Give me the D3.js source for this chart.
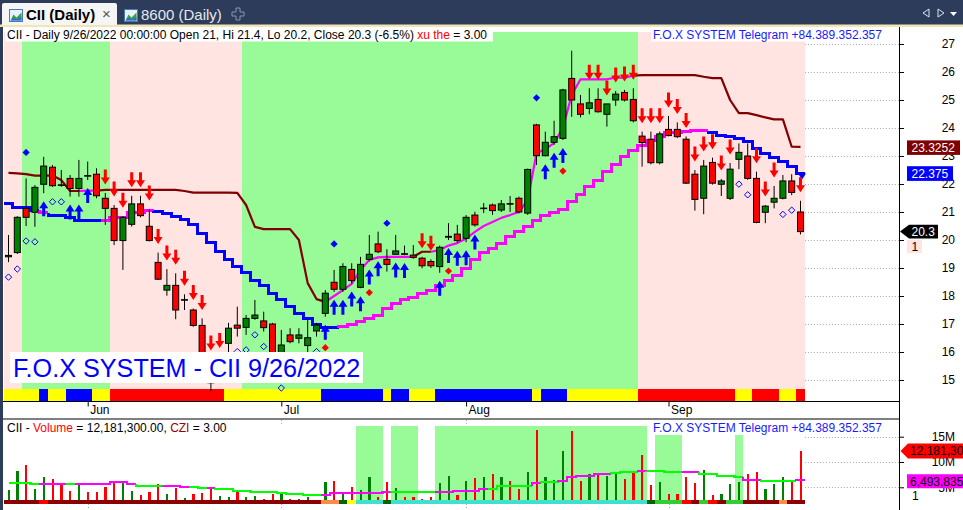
<!DOCTYPE html>
<html>
<head>
<meta charset="utf-8">
<script src="https://cdn.jsdelivr.net/npm/d3@7/dist/d3.min.js"></script>
<style>
html,body{margin:0;padding:0;background:#2d3c5b;}
svg{display:block;font-family:"Liberation Sans",Arial,Helvetica,sans-serif;}
</style>
</head>
<body>
<svg id="chart" width="963" height="510"></svg>
<script>
// ---------------- DATA ----------------
const dates = ["05-19","05-20","05-23","05-24","05-25","05-26","05-27","05-30","05-31",
"06-01","06-02","06-03","06-06","06-07","06-08","06-09","06-10","06-13","06-14","06-15","06-16","06-17","06-20","06-21","06-22","06-23","06-24","06-27","06-28","06-29","06-30",
"07-01","07-04","07-05","07-06","07-07","07-08","07-11","07-12","07-13","07-14","07-15","07-18","07-19","07-20","07-21","07-22","07-25","07-26","07-27","07-28","07-29",
"08-01","08-02","08-03","08-04","08-05","08-08","08-09","08-10","08-11","08-12","08-15","08-16","08-17","08-18","08-19","08-22","08-23","08-24","08-25","08-26","08-29","08-30","08-31",
"09-05","09-06","09-07","09-08","09-09","09-12","09-13","09-14","09-15","09-16","09-19","09-20","09-21","09-22","09-23","09-26"];

const open = [19.40,19.55,21.13,20.99,21.99,22.60,21.97,22.20,21.84,22.30,
22.35,21.49,21.13,19.98,20.56,21.29,20.49,19.20,18.21,18.38,
17.85,17.50,16.95,15.70,15.00,16.31,16.96,16.88,17.20,17.11,
17.00,15.89,16.61,16.49,16.23,16.75,17.38,18.49,18.24,18.95,
18.31,19.31,19.86,19.31,19.49,19.51,19.46,19.35,19.23,19.05,
20.10,20.21,20.06,20.89,21.12,21.25,21.07,21.30,21.49,20.96,
24.11,23.01,23.49,23.63,25.77,24.86,24.70,25.02,24.49,25.00,
25.27,25.02,23.71,23.60,22.76,23.95,23.95,23.60,22.35,21.49,
22.77,21.99,21.49,22.88,23.00,22.20,20.99,21.35,21.49,22.11,
21.00];
const high = [20.18,20.85,22.20,21.96,22.97,22.68,22.50,22.32,22.86,22.80,
22.56,21.68,21.25,20.85,21.58,21.58,21.11,19.55,18.96,18.81,
18.06,17.55,17.20,15.75,15.84,17.04,17.62,17.32,17.86,17.44,
17.04,16.79,16.85,16.85,17.14,17.04,18.21,18.93,19.17,19.17,
19.40,20.18,20.30,19.67,20.18,19.80,19.82,19.40,19.31,19.80,
20.60,20.54,20.89,21.01,21.32,21.30,21.43,21.57,21.55,22.55,
24.15,23.87,24.26,25.40,26.76,25.18,25.42,25.42,24.86,25.32,
25.36,25.42,23.87,23.87,23.87,24.43,24.20,23.70,22.50,22.86,
22.94,22.18,22.75,23.45,23.45,22.44,21.25,21.93,22.32,22.35,
21.40];
const low = [19.21,19.50,20.50,20.47,21.67,21.90,21.90,21.55,21.55,22.14,
21.49,20.54,19.82,18.93,20.48,20.81,19.95,18.57,18.01,17.17,
17.50,16.90,15.60,14.60,14.90,15.90,16.55,16.61,17.15,16.73,
15.70,15.25,16.31,16.31,15.95,16.55,17.26,18.15,18.15,18.45,
18.28,19.23,19.53,18.87,19.48,19.46,19.33,18.99,19.00,18.83,
20.00,19.90,19.92,20.48,20.96,20.90,21.00,21.00,20.95,20.90,
22.68,22.99,23.40,23.57,24.40,24.38,24.49,24.55,24.05,24.79,
24.95,24.20,22.62,22.70,22.70,23.70,23.64,22.00,21.05,20.92,
21.98,21.57,21.43,22.53,22.15,20.60,20.60,21.13,21.45,21.60,
20.20];
const close = [19.45,20.81,20.81,21.88,22.64,21.94,21.95,21.84,22.20,22.28,
21.58,21.13,19.98,20.81,21.29,20.87,19.98,18.60,18.38,17.50,
17.87,16.95,15.75,14.90,15.70,16.85,16.85,17.20,17.32,16.87,
15.90,16.25,16.37,16.61,16.51,16.96,18.10,18.24,19.05,18.55,
19.13,19.49,19.58,19.13,19.61,19.49,19.38,19.08,19.08,19.74,
20.13,19.98,20.81,20.54,21.14,21.05,21.29,21.28,21.00,22.52,
23.01,23.49,23.69,25.36,25.00,24.49,24.90,24.58,24.86,25.21,
25.00,24.26,23.48,22.76,23.79,23.73,23.69,22.03,21.45,22.64,
22.03,22.11,22.53,23.13,22.20,20.63,21.21,21.49,22.11,21.70,
20.30];
// volume in millions
const volume = [4.47,8.22,9.40,4.66,7.10,6.64,5.65,4.27,5.65,4.13,
4.13,5.12,6.25,6.25,4.33,3.48,4.13,5.65,3.68,4.92,
2.83,3.68,3.93,5.12,3.28,3.02,4.13,3.02,3.28,2.63,
3.68,3.81,2.63,2.63,3.02,2.15,6.10,6.25,3.68,5.00,
4.47,6.98,3.14,6.10,4.80,3.02,3.02,2.69,3.02,5.91,
7.23,3.48,6.25,6.90,6.98,7.63,6.98,6.25,4.60,7.96,
16.30,6.98,6.44,12.17,16.10,6.25,7.63,7.63,7.23,8.08,
6.64,7.89,11.38,5.45,6.10,3.68,3.68,6.98,5.91,8.42,
3.48,3.68,5.65,6.10,7.63,8.08,4.66,5.65,6.98,6.25,
12.1813];
const volMA = [5.91,5.91,5.91,5.59,5.59,5.59,5.59,5.59,5.59,5.59,
5.59,5.59,5.99,5.99,5.65,5.32,5.32,5.32,5.26,5.26,
5.12,5.12,4.92,4.92,4.60,4.60,4.33,4.33,4.13,4.13,
4.13,3.93,3.68,3.68,3.48,3.48,3.48,3.81,3.81,3.81,
3.93,3.93,3.93,4.07,4.13,4.13,4.13,4.13,4.13,4.13,
4.13,4.33,4.33,4.33,4.66,4.66,5.26,5.26,5.26,5.26,
5.79,6.11,6.11,6.30,6.98,7.29,7.29,7.63,7.63,7.77,
8.08,8.08,8.28,8.22,8.22,8.08,8.08,8.08,8.08,7.63,
7.63,7.29,7.29,6.98,6.44,6.44,6.25,6.25,6.25,6.25,
6.493835];
// upper trailing line (maroon / magenta)
const lineA = [22.40,22.38,22.35,22.30,22.30,22.30,22.14,21.75,21.75,21.76,
21.76,21.79,21.79,21.79,21.79,21.79,21.79,21.79,21.79,21.79,
21.75,21.69,21.69,21.69,21.69,21.69,21.68,21.25,20.47,20.39,
20.39,20.39,20.39,20.00,18.46,17.89,17.79,18.00,18.21,18.43,
18.93,19.29,19.38,19.40,19.40,19.40,19.40,19.58,19.58,19.64,
19.80,19.89,20.05,20.29,20.50,20.64,20.79,20.89,21.00,21.43,
23.10,23.25,23.46,24.00,25.18,25.74,25.74,25.74,25.74,25.80,
25.80,25.87,25.89,25.89,25.89,25.89,25.89,25.89,25.89,25.83,
25.78,25.78,25.00,24.53,24.53,24.46,24.38,24.31,24.31,23.33,
23.3252];
// stepped trailing line (blue / magenta)
const lineB = [21.29,21.17,21.17,21.07,20.98,20.89,20.89,20.80,20.71,20.71,
20.71,20.71,20.81,20.81,20.98,20.98,21.05,21.01,20.95,20.83,
20.75,20.54,20.24,19.90,19.58,19.31,19.07,18.83,18.57,18.36,
18.10,17.86,17.62,17.38,17.18,17.00,16.87,16.87,16.90,17.00,
17.08,17.18,17.32,17.56,17.74,17.86,17.95,18.10,18.21,18.39,
18.57,18.75,18.99,19.31,19.54,19.71,19.89,20.11,20.32,20.50,
20.68,20.86,21.00,21.10,21.37,21.61,21.90,22.14,22.44,22.71,
22.98,23.19,23.37,23.55,23.69,23.83,23.83,23.88,23.90,23.90,
23.85,23.75,23.71,23.63,23.51,23.28,23.10,22.94,22.82,22.62,
22.375];

const priceTicks = [15,16,17,18,19,20,21,22,23,24,25,26,27];
const volTicks = [5,10,15];
const monthLabels = ["Jun","Jul","Aug","Sep"];
const monthDates = ["06-01","07-01","08-01","09-05"];

// signal bars (indices into dates)
const sellIdx = [11,12,13,14,15,16,17,18,19,20,21,22,23,24,47,48,66,67,68,69,70,71,72,73,74,75,76,77,78,79,80,81,82,85,86,87,90];
const buyIdx = [4,7,8,9,36,37,38,39,40,41,42,44,45,49,50,51,52,53,61,62,63];
const upperDotIdx = [2,37,43,60];
const lowerRedDotIdx = [36,41,50,63];
const hollowIdx = [0,1,2,3,5,6,26,27,28,29,31,35,83,84,88,89];

// state runs [state, number of bars]
const bgRuns = [["P",2],["G",10],["P",15],["G",45],["P",19]];
const trendBarRuns = [["Y",4],["B",1],["Y",2],["B",3],["Y",2],["R",13],["Y",11],["B",7],["Y",1],["B",2],["Y",3],["B",11],["Y",1],["B",3],["Y",8],["R",11],["Y",2],["R",3],["Y",2],["R",1]];
const volBandRuns = [["N",40],["G",3],["N",1],["G",3],["N",2],["G",24],["N",1],["G",3],["N",6],["G",1],["N",7]];
const cziRuns = [["DR",4],["R",1],["DR",31],["O",2],["DG",1],["Y",1],["T",3],["DG",1],["T",29],["DG",1],["LG",3],["R",1],["DR",1],["LG",1],["R",1],["DR",1],["LG",2],["DR",4],["O",1],["DR",2]];
const lineARuns = [["D",9],["U",2],["D",26],["U",10],["D",2],["U",23],["D",19]];
const lineBRuns = [["D",4],["U",1],["D",6],["U",6],["D",21],["U",42],["D",11]];
const volMARuns = [["G",4],["M",3],["G",1],["M",7],["G",3],["M",3],["G",2],["M",1],["G",12],["M",8],["G",5],["M",6],["G",5],["M",1],["G",2],["M",6],["G",3],["M",1],["G",4],["M",2],["G",5],["M",2],["G",4],["M",1]];

// ---------------- STYLE ----------------
const bgColor = {G:"#98fb98", P:"#ffe4e1"};
const trendColor = {Y:"#ffff00", B:"#0000ff", R:"#ff0000"};
const cziColor = {DR:"#8b0000", R:"#ff0000", O:"#ff8c42", DG:"#006400", Y:"#ffff00", T:"#40e0d0", LG:"#32cd32"};
const lineAColor = {D:"#800000", U:"#ff00ff"};
const lineBColor = {D:"#0000ff", U:"#ff00ff"};
const volMAColor = {G:"#00ff00", M:"#ff00ff"};
const UP = "#008000", DN = "#ff0000";

// ---------------- DRAW ----------------
const W = 963, H = 510, axisX = 899;
const svg = d3.select("#chart");

function segs(runs){let s=0;return runs.map(([v,n])=>{const o={v,s,e:s+n-1};s+=n;return o;});}

svg.append("rect").attr("width",W).attr("height",H).attr("fill","#2d3c5b");
svg.append("rect").attr("x",0).attr("y",24.5).attr("width",W).attr("height",2.5).attr("fill","#f3e4b4");
svg.append("rect").attr("x",3).attr("y",27).attr("width",W-3).attr("height",H-27).attr("fill","#ffffff");

// tab bar
const tabs = svg.append("g");
tabs.append("path").attr("d","M2,25 L2,5 Q2,3 4,3 L115,3 Q117,3 117,5 L117,25 Z").attr("fill","#f5f5f5");
function tabIcon(x0,y0){
  tabs.append("rect").attr("x",x0).attr("y",y0).attr("width",13).attr("height",12).attr("fill","#e8f2ff").attr("stroke","#4a78c0");
  tabs.append("path").attr("d",`M${x0+1},${y0+11} L${x0+4},${y0+5} L${x0+7},${y0+8} L${x0+12},${y0+3} V${y0+11} Z`).attr("fill","#3aa040");
  tabs.append("path").attr("d",`M${x0+1},${y0+11} L${x0+4},${y0+8} L${x0+8},${y0+10} L${x0+12},${y0+7} V${y0+11} Z`).attr("fill","#2f6fd0");
}
tabIcon(9.5,9.5);
tabs.append("text").attr("x",26).attr("y",20).attr("font-size",15).attr("font-weight","bold").attr("fill","#000").text("CII (Daily)");
tabs.append("text").attr("x",102).attr("y",18.5).attr("font-size",15).attr("fill","#555").text("×");
tabIcon(124.5,9.5);
tabs.append("text").attr("x",141).attr("y",20).attr("font-size",15).attr("fill","#e4e8ee").text("8600 (Daily)");
tabs.append("path").attr("d","M236,8 h4 v4 h4 v4 h-4 v4 h-4 v-4 h-4 v-4 h4 Z").attr("fill","none").attr("stroke","#8795ad").attr("stroke-width",1);
tabs.append("path").attr("d","M929,9 L923,13 L929,17 Z").attr("fill","none").attr("stroke","#dfe4ec");
tabs.append("path").attr("d","M938,9 L944,13 L938,17 Z").attr("fill","none").attr("stroke","#dfe4ec");
tabs.append("path").attr("d","M950,12 L957,12 L953.5,16 Z").attr("fill","#ffffff");

// scales
const x = d3.scalePoint().domain(dates).range([8.5, 800.5]);
const step = x.step();
const xi = i => x(dates[i]);
const y = d3.scaleLinear().domain([15,27]).range([380,44]);
const yv = d3.scaleLinear().domain([0,15]).range([512.6,436.7]);
const last = dates.length - 1;
const xEnd = xi(last) + step/2;

// grid (only visible right of data)
const grid = svg.append("g").attr("stroke","#a9a9a9").attr("stroke-dasharray","1,2");
priceTicks.forEach(t=>grid.append("line").attr("x1",xEnd).attr("x2",axisX).attr("y1",Math.round(y(t))+0.5).attr("y2",Math.round(y(t))+0.5));
volTicks.forEach(t=>grid.append("line").attr("x1",xEnd).attr("x2",axisX).attr("y1",Math.round(yv(t))+0.5).attr("y2",Math.round(yv(t))+0.5));
monthDates.forEach(d=>{
  grid.append("line").attr("x1",Math.round(x(d))+0.5).attr("x2",Math.round(x(d))+0.5).attr("y1",420).attr("y2",426);
  grid.append("line").attr("x1",Math.round(x(d))+0.5).attr("x2",Math.round(x(d))+0.5).attr("y1",504).attr("y2",510);
});

// background bands
const bands = svg.append("g").attr("shape-rendering","crispEdges");
segs(bgRuns).forEach(sg=>bands.append("rect").attr("x",xi(sg.s)-step/2).attr("width",(sg.e-sg.s+1)*step)
  .attr("y",32).attr("height",389-32).attr("fill",bgColor[sg.v]));
segs(trendBarRuns).forEach(sg=>bands.append("rect").attr("x",xi(sg.s)-step/2).attr("width",(sg.e-sg.s+1)*step)
  .attr("y",389).attr("height",12.5).attr("fill",trendColor[sg.v]));
segs(volBandRuns).filter(sg=>sg.v==="G").forEach(sg=>bands.append("rect").attr("x",xi(sg.s)-step/2).attr("width",(sg.e-sg.s+1)*step)
  .attr("y",426).attr("height",499.5-426).attr("fill",bgColor.G));

// line A (linear)
const lineGen = d3.line().x(d=>d[0]).y(d=>d[1]);
segs(lineARuns).forEach(sg=>{
  const pts=[];
  for(let i=Math.max(0,sg.s-1);i<=sg.e;i++) pts.push([xi(i), y(lineA[i])]);
  svg.append("path").attr("d",lineGen(pts)).attr("fill","none").attr("stroke",lineAColor[sg.v]).attr("stroke-width",2.2).attr("stroke-linejoin","round");
});
// step line helper
function stepLine(values, runs, colors, scale, width, startAtCenter){
  segs(runs).forEach(sg=>{
    const pts=[];
    for(let i=sg.s;i<=sg.e;i++){
      const xl = (i===0 && startAtCenter) ? xi(i) : xi(i)-step/2, xr = xi(i)+step/2;
      pts.push([xl, scale(values[i>0?i-1:i])]); pts.push([xl, scale(values[i])]); pts.push([xr, scale(values[i])]);
    }
    svg.append("path").attr("d",lineGen(pts)).attr("fill","none").attr("stroke",colors[sg.v]).attr("stroke-width",width).attr("shape-rendering","crispEdges");
  });
}
stepLine(lineB, lineBRuns, lineBColor, y, 3, false);
// end marker of line B
{
  const cx = xi(last)+1.5, cy = y(lineB[last]);
  svg.append("path").attr("d",`M${cx-4},${cy} L${cx+4},${cy} L${cx},${cy+6} Z`).attr("fill","#0000ff");
}

// candles
const cg = svg.append("g");
dates.forEach((d,i)=>{
  const cx = xi(i);
  cg.append("line").attr("x1",cx).attr("x2",cx).attr("y1",y(high[i])).attr("y2",y(low[i])).attr("stroke","#000").attr("stroke-width",1);
  const yt = y(Math.max(open[i],close[i])), yb = y(Math.min(open[i],close[i]));
  cg.append("rect").attr("x",cx-3).attr("y",yt).attr("width",6).attr("height",Math.max(yb-yt,0.4))
    .attr("fill", close[i]>=open[i]?UP:DN).attr("stroke","#000").attr("stroke-width",1);
});

// markers
function downArrow(cx,tip){return `M${cx-1.5},${tip-15}H${cx+1.5}V${tip-7}H${cx+4.5}L${cx},${tip}L${cx-4.5},${tip-7}H${cx-1.5}Z`;}
function upArrow(cx,tip){return `M${cx-1.5},${tip+15}H${cx+1.5}V${tip+7}H${cx+4.5}L${cx},${tip}L${cx-4.5},${tip+7}H${cx-1.5}Z`;}
function diamond(cx,cy,r){return `M${cx},${cy-r}L${cx+r},${cy}L${cx},${cy+r}L${cx-r},${cy}Z`;}
const mg = svg.append("g");
sellIdx.forEach(i=>mg.append("path").attr("d",downArrow(xi(i),y(high[i])-8.5)).attr("fill","#ff0000"));
buyIdx.forEach(i=>mg.append("path").attr("d",upArrow(xi(i),y(low[i])+8)).attr("fill","#0000ff"));
upperDotIdx.forEach(i=>mg.append("path").attr("d",diamond(xi(i),y(high[i])-26,3.6)).attr("fill","#0000ff"));
lowerRedDotIdx.forEach(i=>mg.append("path").attr("d",diamond(xi(i),y(low[i])+31,3.6)).attr("fill","#ff0000"));
hollowIdx.forEach(i=>mg.append("path").attr("d",diamond(xi(i),y(low[i])+15,3.2)).attr("fill","none").attr("stroke","#0000ff").attr("stroke-width",1));

// watermark
svg.append("rect").attr("x",10).attr("y",352).attr("width",353).attr("height",31).attr("fill","#ffffff");
svg.append("text").attr("x",13).attr("y",377).attr("font-size",25.2).attr("fill","#0000ff")
  .text(`F.O.X SYSTEM - CII ${+dates[last].split("-")[0]}/${+dates[last].split("-")[1]}/2022`);

// panel separators
svg.append("line").attr("x1",3).attr("x2",axisX).attr("y1",401.5).attr("y2",401.5).attr("stroke","#000");
svg.append("line").attr("x1",3).attr("x2",axisX).attr("y1",419).attr("y2",419).attr("stroke","#000");

// x axis
const gx = svg.append("g").attr("transform","translate(0,401.5)")
  .call(d3.axisBottom(x).tickValues(monthDates).tickSize(5).tickFormat((d,i)=>monthLabels[i]));
gx.select(".domain").remove();
gx.attr("font-family",null).attr("font-size",12);
gx.selectAll("text").attr("text-anchor","start").attr("x",2).attr("dy",0).attr("y",12.5).attr("fill","#000");

// volume bars
const vg = svg.append("g").attr("shape-rendering","crispEdges");
dates.forEach((d,i)=>{
  vg.append("rect").attr("x",xi(i)-1).attr("y",yv(volume[i])).attr("width",2.2).attr("height",499.5-yv(volume[i]))
    .attr("fill", close[i]>=open[i]?UP:DN);
});
segs(cziRuns).forEach(sg=>vg.append("rect").attr("x",xi(sg.s)-step/2).attr("width",(sg.e-sg.s+1)*step)
  .attr("y",499.5).attr("height",4).attr("fill",cziColor[sg.v]));
stepLine(volMA, volMARuns, volMAColor, yv, 2.2, true);

// headers
const fmt2 = d3.format(",.2f");
svg.append("rect").attr("x",5).attr("y",27).attr("width",488).attr("height",14.5).attr("fill","#fff");
const pct = (close[last]-close[last-1])/close[last-1]*100;
const [mm,dd] = dates[last].split("-");
const hdr = svg.append("text").attr("x",7).attr("y",38.5).attr("font-size",12).attr("fill","#000");
hdr.append("tspan").text(`CII - Daily ${+mm}/${+dd}/2022 00:00:00 Open ${open[last]}, Hi ${high[last]}, Lo ${low[last]}, Close ${close[last]} (${pct.toFixed(1)}%) `);
hdr.append("tspan").attr("fill","#ff0000").text("xu the");
hdr.append("tspan").text(" = 3.00");
svg.append("rect").attr("x",651).attr("y",27).attr("width",235).attr("height",14.5).attr("fill","#fff");
svg.append("text").attr("x",653).attr("y",38.5).attr("font-size",12).attr("fill","#1a1aff").text("F.O.X SYSTEM Telegram +84.389.352.357");

svg.append("rect").attr("x",5).attr("y",420).attr("width",225).attr("height",14.5).attr("fill","#fff");
const vh = svg.append("text").attr("x",7).attr("y",432).attr("font-size",12).attr("fill","#000");
vh.append("tspan").text("CII - ");
vh.append("tspan").attr("fill","#ff0000").text("Volume");
vh.append("tspan").text(` = ${fmt2(volume[last]*1e6)}, `);
vh.append("tspan").attr("fill","#990000").text("CZI");
vh.append("tspan").text(" = 3.00");
svg.append("rect").attr("x",651).attr("y",420).attr("width",235).attr("height",15).attr("fill","#fff");
svg.append("text").attr("x",653).attr("y",432).attr("font-size",12).attr("fill","#1a1aff").text("F.O.X SYSTEM Telegram +84.389.352.357");

// right axis
svg.append("line").attr("x1",axisX+0.5).attr("x2",axisX+0.5).attr("y1",27).attr("y2",H).attr("stroke","#000");
const gy = svg.append("g").attr("transform",`translate(${axisX},0)`)
  .call(d3.axisRight(y).tickValues(priceTicks).tickSize(5).tickFormat(d3.format("d")));
gy.select(".domain").remove();
gy.attr("font-family",null).attr("font-size",12);
gy.selectAll("text").attr("x",56).attr("text-anchor","end").attr("fill","#000");
const gyv = svg.append("g").attr("transform",`translate(${axisX},0)`)
  .call(d3.axisRight(yv).tickValues(volTicks).tickSize(5).tickFormat(d=>d+"M"));
gyv.select(".domain").remove();
gyv.attr("font-family",null).attr("font-size",12);
gyv.selectAll("text").attr("x",56).attr("text-anchor","end").attr("fill","#000");

// value labels on the right
const lab = svg.append("g").attr("font-size",12);
{
  const ya = y(lineA[last]);
  lab.append("rect").attr("x",907).attr("y",ya-6.5).attr("width",53).attr("height",14.5).attr("fill","#800000");
  lab.append("text").attr("x",911.5).attr("y",ya+5).attr("fill","#fff").text(String(lineA[last]));
  const yb = y(lineB[last]);
  lab.append("rect").attr("x",907).attr("y",yb-7.3).attr("width",46).attr("height",14.7).attr("fill","#0000ff");
  lab.append("text").attr("x",911.5).attr("y",yb+4.5).attr("fill","#fff").text(String(lineB[last]));
  const yc = y(close[last]);
  lab.append("path").attr("d",`M${axisX+1},${yc} L${axisX+10},${yc-6.8} H938 V${yc+6.8} H${axisX+10} Z`).attr("fill","#000");
  lab.append("text").attr("x",911.5).attr("y",yc+4.5).attr("fill","#fff").text(String(close[last]));
  lab.append("rect").attr("x",907).attr("y",yc+8.5).attr("width",15).attr("height",13).attr("fill","#ffe4e1");
  lab.append("text").attr("x",911.5).attr("y",yc+19.5).attr("fill","#000").text("1");
  const yvv = yv(volume[last]);
  lab.append("path").attr("d",`M${axisX+1.5},${yvv} L${axisX+9},${yvv-7.5} H${W} V${yvv+7.5} H${axisX+9} Z`).attr("fill","#ff0000");
  lab.append("text").attr("x",910).attr("y",yvv+4.5).attr("fill","#000").text(d3.format(",.0f")(volume[last]*1e6));
  const ym = yv(volMA[last]);
  lab.append("rect").attr("x",907).attr("y",ym-5.5).attr("width",W-907).attr("height",14).attr("fill","#ff00ff");
  lab.append("text").attr("x",910).attr("y",ym+6).attr("fill","#000").text(d3.format(",.0f")(volMA[last]*1e6));
  lab.append("text").attr("x",912).attr("y",ym+20).attr("fill","#000").text("1");
}
</script>
</body>
</html>
